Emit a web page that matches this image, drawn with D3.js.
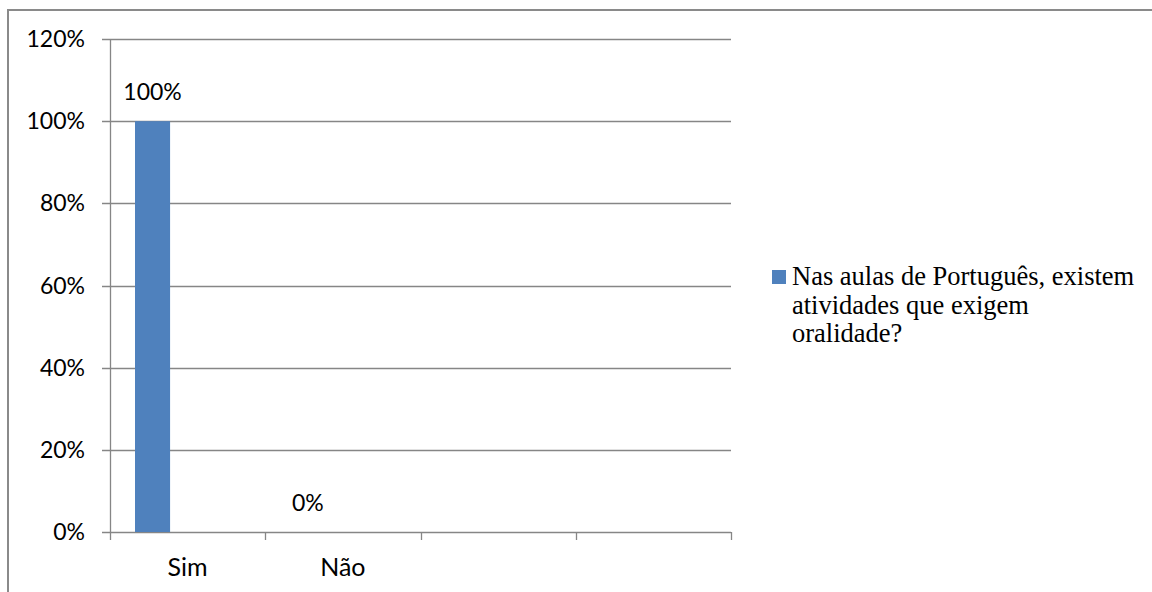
<!DOCTYPE html>
<html>
<head>
<meta charset="utf-8">
<script src="https://cdn.jsdelivr.net/npm/d3@7"></script>
<style>
body{margin:0;background:#fff;}
</style>
</head>
<body>
<div id="vis"></div>
<script>
// data
var categories = ["Sim", "Não", "", " "];
var seriesNames = ["Nas aulas de Português, existem atividades que exigem oralidade?", "s2", "s3"];
var values = [1.0, 0.0, null, null];
var yTicks = [0, 0.2, 0.4, 0.6, 0.8, 1.0, 1.2];
var legendLines = ["Nas aulas de Português, existem", "atividades que exigem", "oralidade?"];

var W = 1152, H = 592;
var svg = d3.select("#vis").append("svg").attr("width", W).attr("height", H);

// outer chart border (runs off the picture on right and bottom)
svg.append("rect").attr("x", 8).attr("y", 10).attr("width", 1160).attr("height", 600)
    .attr("fill", "none").attr("stroke", "#8a8a8a").attr("stroke-width", 2);

var plotL = 110, plotR = 731, plotT = 39, plotB = 532;

var x = d3.scaleBand().domain(categories).range([plotL, plotR]).padding(0);
// three series slots per category, only the first one has data
var x1 = d3.scaleBand().domain(seriesNames).range([25, x.bandwidth() - 25]).padding(0);
var y = d3.scaleLinear().domain([0, 1.2]).range([plotB, plotT]);

var fmt = d3.format(".0%");
var tickFont = "Lato, 'Open Sans', sans-serif";
var numSize = 23, catSize = 25;

// gridlines
svg.append("g").selectAll("line").data(yTicks).enter().append("line")
    .attr("x1", plotL - 8).attr("x2", plotR)
    .attr("y1", d => Math.round(y(d)) + 0.5).attr("y2", d => Math.round(y(d)) + 0.5)
    .attr("stroke", "#868686").attr("stroke-width", 1.3);

// y axis line
svg.append("line").attr("x1", plotL + 0.5).attr("x2", plotL + 0.5).attr("y1", plotT).attr("y2", plotB)
    .attr("stroke", "#868686").attr("stroke-width", 1.3);

// y tick labels
svg.append("g").selectAll("text").data(yTicks).enter().append("text")
    .text(d => fmt(d))
    .attr("x", 85).attr("y", d => y(d) + 8)
    .attr("text-anchor", "end")
    .attr("font-family", tickFont).attr("font-size", numSize).attr("fill", "#000");

// x axis ticks
var xTickPos = categories.map(c => x(c)).concat([plotR]);
svg.append("g").selectAll("line").data(xTickPos).enter().append("line")
    .attr("x1", d => Math.round(d) + 0.5).attr("x2", d => Math.round(d) + 0.5)
    .attr("y1", plotB).attr("y2", plotB + 8)
    .attr("stroke", "#868686").attr("stroke-width", 1.3);

// category labels
svg.append("g").selectAll("text").data(categories).enter().append("text")
    .text(d => d)
    .attr("x", d => x(d) + x.bandwidth() / 2).attr("y", 576)
    .attr("text-anchor", "middle")
    .attr("font-family", tickFont).attr("font-size", catSize).attr("fill", "#000");

// bars
var barData = categories.map((c, i) => ({cat: c, v: values[i]})).filter(d => d.v !== null);
svg.append("g").selectAll("rect").data(barData).enter().append("rect")
    .attr("x", d => x(d.cat) + x1(seriesNames[0]))
    .attr("width", x1.bandwidth())
    .attr("y", d => y(d.v))
    .attr("height", d => y(0) - y(d.v))
    .attr("fill", "#4F81BD");

// data labels
svg.append("g").selectAll("text").data(barData).enter().append("text")
    .text(d => fmt(d.v))
    .attr("x", d => x(d.cat) + x1(seriesNames[0]) + x1.bandwidth() / 2)
    .attr("y", d => y(d.v) - 21)
    .attr("text-anchor", "middle")
    .attr("font-family", tickFont).attr("font-size", numSize).attr("fill", "#000");

// legend
var lg = svg.append("g");
lg.append("rect").attr("x", 772).attr("y", 270).attr("width", 14).attr("height", 14).attr("fill", "#4F81BD");
lg.selectAll("text").data(legendLines).enter().append("text")
    .text(d => d)
    .attr("x", 792).attr("y", (d, i) => 285 + i * 28.5)
    .attr("font-family", "'Liberation Serif', 'Times New Roman', serif")
    .attr("font-size", 26.5).attr("fill", "#000");
</script>
</body>
</html>
